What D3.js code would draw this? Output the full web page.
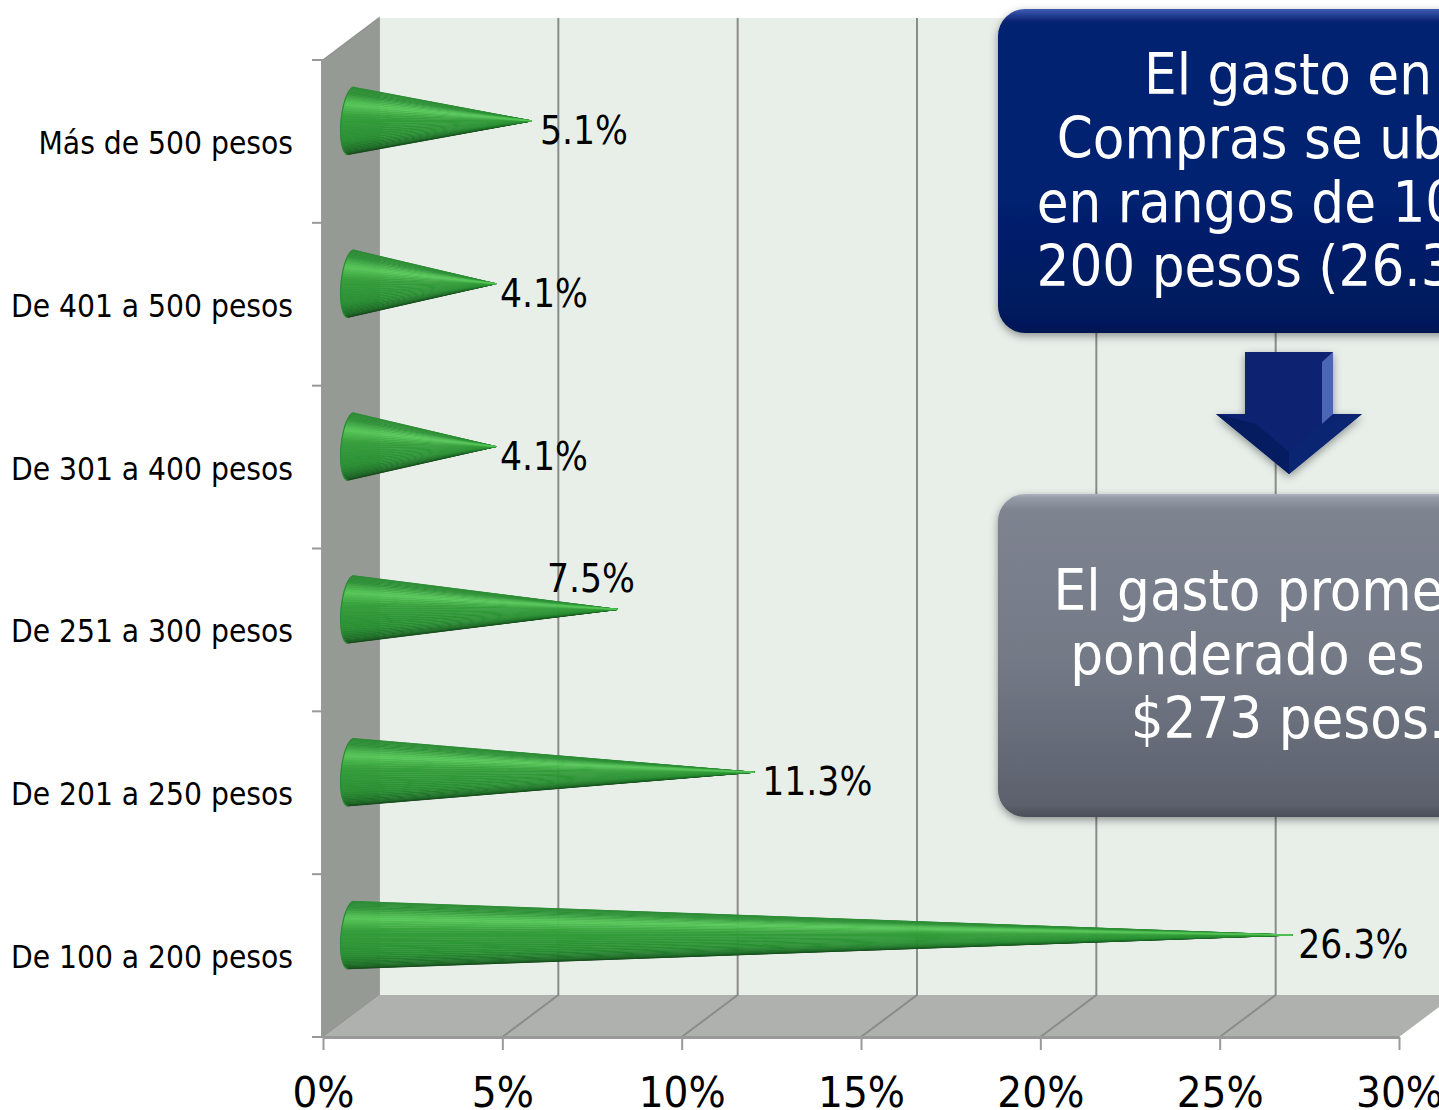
<!DOCTYPE html>
<html><head><meta charset="utf-8">
<script src="https://cdn.jsdelivr.net/npm/d3@7"></script>
<style>html,body{margin:0;padding:0;background:#fff;overflow:hidden}svg{display:block}
text{font-family:"DejaVu Sans Condensed","DejaVu Sans",sans-serif}</style></head><body>
<svg id="c" width="1439" height="1110"></svg>
<script>
const categories = ["De 100 a 200 pesos","De 201 a 250 pesos","De 251 a 300 pesos","De 301 a 400 pesos","De 401 a 500 pesos","Más de 500 pesos"];
const values = [26.3,11.3,7.5,4.1,4.1,5.1];
const xTicks = [0,5,10,15,20,25,30];
const blueLines = ["El gasto en","Compras se ubica","en rangos de 100 a","200 pesos (26.3%)."];
const greyLines = ["El gasto promedio","ponderado es de","$273 pesos."];
const labelStyle = [[6,9,"start"],[8,9,"start"],[-27,-31,"middle"],[4,10,"start"],[4,10,"start"],[8,10,"start"]];

const svg = d3.select("#c");
const x = d3.scaleLinear().domain([0,30]).range([323,1399]);
const y = d3.scaleBand().domain(categories).range([1037,60]);
const dx = 56, dy = 42, topY = 60, base = 1037;
const line = d3.line();
const defs = svg.append("defs");
function grad(id, stops, x1=0,y1=0,x2=0,y2=1){
  const g = defs.append("linearGradient").attr("id",id).attr("x1",x1).attr("y1",y1).attr("x2",x2).attr("y2",y2);
  stops.forEach(s=>g.append("stop").attr("offset",s[0]).attr("stop-color",s[1]));
}
grad("blue",[[0,"#3f5cb0"],[.012,"#2f4a9e"],[.04,"#06206f"],[.6,"#06206f"],[.97,"#05195c"],[1,"#041551"]]);
grad("grey",[[0,"#adb3bd"],[.012,"#959ba7"],[.05,"#7d838f"],[.5,"#747a87"],[.96,"#5c616d"],[1,"#4b4f59"]]);
const f = defs.append("filter").attr("id","sh").attr("x","-5%").attr("y","-5%").attr("width","110%").attr("height","115%");
f.append("feDropShadow").attr("dx",0).attr("dy",3).attr("stdDeviation",4).attr("flood-color","#000").attr("flood-opacity",.4);

// back wall, side wall, floor
svg.append("rect").attr("x",x(0)+dx).attr("y",topY-dy).attr("width",1439-x(0)-dx).attr("height",base-topY).attr("fill","#e8efe9");
svg.append("path").attr("d",line([[x(0),topY],[x(0)+dx,topY-dy],[x(0)+dx,base-dy],[x(0),base]])).attr("fill","#969a94").attr("stroke","#8f918e").attr("stroke-width",1.5);
svg.append("path").attr("d",line([[x(0),base],[x(0)+dx,base-dy],[x(30)+dx,base-dy],[x(30),base]])).attr("fill","#aeb1ae");

// gridlines
xTicks.slice(1,-1).forEach(t=>{
  svg.append("path").attr("d",line([[x(t),base],[x(t)+dx,base-dy],[x(t)+dx,topY-dy]])).attr("fill","none").attr("stroke","#8a8c8a").attr("stroke-width",2);
});
svg.append("line").attr("x1",x(0)+dx).attr("x2",x(0)+dx).attr("y1",topY-dy).attr("y2",base-dy).attr("stroke","#9a9c99").attr("stroke-width",1.5);

// axes
const xAxis = svg.append("g").attr("transform",`translate(0,${base})`)
  .call(d3.axisBottom(x).tickValues(xTicks).tickFormat(d=>d+"%").tickSize(13).tickPadding(26).tickSizeOuter(0));
xAxis.selectAll("path").attr("stroke","#999").attr("stroke-width",3);
xAxis.selectAll("line").attr("stroke","#999").attr("stroke-width",2);
xAxis.selectAll("text").attr("fill","#000").style("font-size","43.5px");
const yAxis = svg.append("g").attr("transform",`translate(293,0)`)
  .call(d3.axisLeft(y).tickSize(0).tickPadding(0));
yAxis.select("path").remove();
yAxis.selectAll("text").attr("fill","#000").attr("dy","0.4em").style("font-size","31.4px");
svg.append("line").attr("x1",x(0)-1).attr("x2",x(0)-1).attr("y1",topY).attr("y2",base).attr("stroke","#999").attr("stroke-width",2);
const edges = categories.map(c=>y(c)).concat([base]);
edges.forEach(e=>svg.append("line").attr("x1",312).attr("x2",x(0)).attr("y1",e).attr("y2",e).attr("stroke","#999").attr("stroke-width",2));

// cones built from wedge strips converging at the tip
const shade = d3.scaleLinear().domain([0,.2,.33,.45,.7,.88,1])
  .range(["#2c8a34","#2f9238","#58c85a","#36a03c","#2a8f33","#1c6624","#113a16"]);
const coneR = y.bandwidth()*0.207, tilt = 0.088, coneRx = 10;
categories.forEach((c,i)=>{
  const cx = x(0)+dx/2, cy = y(c)+y.bandwidth()/2-dy/2+0.5;
  const tip = [x(values[i])+dx/2-2, cy];
  const g = svg.append("g");
  const n = 40;
  const rim = a => {
    const t = Math.PI*a; const e = -Math.cos(t)*coneR, w = -Math.sin(t)*coneRx;
    return [cx + w - e*tilt, cy + e];
  };
  // dark strips first, so the lightest strip ends on top at the tip
  const order = d3.range(n).sort((p,q)=>Math.abs(q/n-.33)-Math.abs(p/n-.33));
  order.forEach(k=>{
    const col = shade((k+.5)/n);
    g.append("path").attr("d",line([rim(k/n),rim((k+1)/n),tip])+"Z").attr("fill",col).attr("stroke",col).attr("stroke-width",.5);
  });
  g.append("path").attr("d",line(d3.range(0,n+1).map(k=>rim(k/n)))).attr("fill","none").attr("stroke","#2b8a33").attr("stroke-width",1.2);
  const st = labelStyle[i];
  svg.append("text").attr("x",tip[0]+st[0]).attr("y",cy+st[1]).attr("dy","0.35em").attr("text-anchor",st[2]).attr("fill","#000").style("font-size","38.5px").text(values[i].toFixed(1)+"%");
});

// call-out boxes
function box(y0,h,fill,lines,firstBase){
  svg.append("rect").attr("x",998).attr("y",y0).attr("width",600).attr("height",h).attr("rx",27).attr("fill",`url(#${fill})`).attr("filter","url(#sh)");
  svg.append("text").attr("text-anchor","middle").attr("fill","#fff").style("font-size","57.5px")
    .selectAll("tspan").data(lines).join("tspan").attr("x",1288).attr("y",(d,i)=>firstBase+i*64).text(d=>d);
}
box(9,324,"blue",blueLines,94);
box(494,323,"grey",greyLines,610);

// arrow
const ax=1289;
svg.append("path").attr("d",line([[ax-44,352],[ax+44,352],[ax+44,414],[ax+73,414],[ax,474],[ax-73,414],[ax-44,414]])+"Z").attr("fill","#07206f").attr("filter","url(#sh)");
svg.append("path").attr("d",line([[ax+33,362],[ax+44,352],[ax+44,414],[ax+33,424]])+"Z").attr("fill","#4a66b4");
svg.append("path").attr("d",line([[ax,474],[ax+73,414],[ax+33,424],[ax,452]])+"Z").attr("fill","#0a2672");
svg.append("path").attr("d",line([[ax,474],[ax-73,414],[ax-33,424],[ax,452]])+"Z").attr("fill","#051c60");
</script></body></html>
